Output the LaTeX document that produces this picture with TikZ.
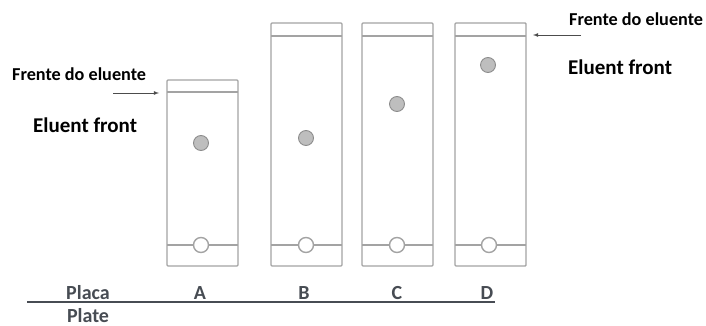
\documentclass[tikz,border=0pt]{standalone}
\usepackage{fontspec}
\setmainfont{Carlito}
\definecolor{plategray}{HTML}{A3A3A3}
\definecolor{spotgray}{HTML}{BEBEBE}
\definecolor{spotedge}{HTML}{8C8C8C}
\definecolor{axisgray}{HTML}{474C53}
\tikzset{
	plate/.style={draw=plategray,line width=1.4pt,rounded corners=1pt},
	band/.style={draw=plategray,line width=1.4pt},
	spot/.style={circle,draw=spotedge,fill=spotgray,line width=0.9pt,minimum size=15pt,inner sep=0pt},
	origin/.style={circle,draw=plategray,fill=white,line width=1.4pt,minimum size=15pt,inner sep=0pt},
	frente/.style={font=\bfseries\fontsize{18.2}{22}\selectfont,inner sep=0pt},
	eluent/.style={font=\bfseries\fontsize{21}{25}\selectfont,inner sep=0pt},
	lbl/.style={font=\bfseries\fontsize{20}{24}\selectfont,text=axisgray,inner sep=0pt},
	front/.style={draw=black!70,line width=0.8pt,-latex}
}
\begin{document}
\begin{tikzpicture}[x=1pt,y=-1pt]
\useasboundingbox (0,0) rectangle (706,326);

% plates
\draw [plate] (167,80) rectangle (238,266);
\draw [plate] (271,23) rectangle (342,266);
\draw [plate] (362,23) rectangle (433,266);
\draw [plate] (455,23) rectangle (526,266);
\draw [band] (167,92) -- (238,92);
\draw [band] (271,36) -- (342,36);
\draw [band] (362,36) -- (433,36);
\draw [band] (455,36) -- (526,36);
\draw [band] (167,245) -- (238,245);
\draw [band] (271,245) -- (342,245);
\draw [band] (362,245) -- (433,245);
\draw [band] (455,245) -- (526,245);

% origin and spots
\node [origin] (oA) at (201,245) {};
\node [origin] (oB) at (306,245) {};
\node [origin] (oC) at (397,245) {};
\node [origin] (oD) at (489,245) {};
\node [spot] (sA) at (201,143) {};
\node [spot] (sB) at (306,138) {};
\node [spot] (sC) at (397,104) {};
\node [spot] (sD) at (488,65) {};

% eluent front labels
\node [frente,anchor=base west] (frL) at (12,81) {Frente do eluente};
\node [eluent,anchor=base west] (elL) at (33,132) {Eluent front};
\node [frente,anchor=base west] (frR) at (569,26) {Frente do eluente};
\node [eluent,anchor=base west] (elR) at (568,75) {Eluent front};
\coordinate (tailL) at (113,93);
\coordinate (headL) at (159,93);
\coordinate (tailR) at (581,35);
\coordinate (headR) at (533,35);
\draw [front] (tailL) -- (headL);
\draw [front] (tailR) -- (headR);

% plate axis
\coordinate (ax1) at (27,302);
\coordinate (ax2) at (495,302);
\draw [draw=axisgray,line width=2pt] (ax1) -- (ax2);
\node [lbl,anchor=base] (placa) at (88,299) {Placa};
\node [lbl,anchor=base] (plate) at (88,322) {Plate};
\node [lbl,anchor=base] (lA) at (200,299) {A};
\node [lbl,anchor=base] (lB) at (304,299) {B};
\node [lbl,anchor=base] (lC) at (397,299) {C};
\node [lbl,anchor=base] (lD) at (487,299) {D};
\end{tikzpicture}
\end{document}
